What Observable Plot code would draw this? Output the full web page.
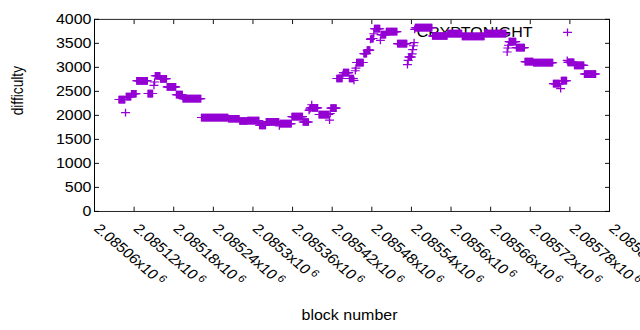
<!DOCTYPE html>
<html>
<head>
<meta charset="utf-8">
<script src="https://cdn.jsdelivr.net/npm/d3@7"></script>
<script src="https://cdn.jsdelivr.net/npm/@observablehq/plot@0.6"></script>
<style>
html, body { margin: 0; padding: 0; background: #fff; }
#chart { width: 640px; height: 330px; overflow: hidden; }
</style>
</head>
<body>
<div id="chart"></div>
<script>
// Runs of consecutive blocks that share one difficulty value
const runStart = [2085097,2085107,2085108,2085116,2085124,2085141,2085150,2085151,2085152,2085160,2085170,2085184,2085194,2085222,2085263,2085280,2085292,2085310,2085320,2085340,2085341,2085359,2085376,2085385,2085386,2085387,2085389,2085390,2085400,2085416,2085417,2085418,2085427,2085436,2085437,2085446,2085453,2085455,2085456,2085457,2085468,2085473,2085478,2085479,2085483,2085484,2085493,2085494,2085502,2085519,2085534,2085535,2085536,2085541,2085542,2085543,2085544,2085545,2085546,2085572,2085595,2085617,2085651,2085685,2085686,2085687,2085688,2085699,2085712,2085725,2085755,2085766,2085767,2085776,2085777,2085787,2085802];
const runEnd   = [2085106,2085107,2085115,2085123,2085140,2085148,2085150,2085151,2085159,2085169,2085183,2085193,2085221,2085262,2085279,2085291,2085309,2085319,2085339,2085340,2085358,2085375,2085384,2085385,2085386,2085388,2085389,2085398,2085415,2085416,2085417,2085426,2085435,2085436,2085445,2085452,2085453,2085455,2085456,2085467,2085472,2085477,2085478,2085482,2085483,2085492,2085493,2085501,2085518,2085533,2085534,2085535,2085540,2085541,2085542,2085543,2085544,2085545,2085571,2085594,2085616,2085650,2085683,2085685,2085686,2085687,2085698,2085711,2085724,2085754,2085764,2085766,2085775,2085776,2085786,2085801,2085819];
const runDifficulty = [2330,2056,2390,2450,2720,2455,2625,2695,2825,2762,2593,2430,2348,1955,1930,1883,1890,1793,1866,1779,1826,1975,1862,2105,2130,2157,2222,2157,2017,1900,2040,2150,2768,2840,2889,2768,2729,2930,2985,3100,3285,3360,3583,3600,3701,3805,3563,3681,3745,3493,3056,3146,3215,3280,3368,3450,3514,3792,3826,3653,3701,3646,3701,3319,3403,3460,3535,3410,3118,3097,2660,2556,2722,3146,3104,3042,2861];

const xTicks = [2085060,2085120,2085180,2085240,2085300,2085360,2085420,2085480,2085540,2085600,2085660,2085720,2085780,2085840];
const yTicks = [0,500,1000,1500,2000,2500,3000,3500,4000];
const seriesName = "CRYPTONIGHT";
const xLabel = "block number";
const yLabel = "difficulty";

// one point per block inside each run
const points = [];
runStart.forEach((s, i) => {
  for (let b = s; b <= runEnd[i]; b++) points.push({block: b, difficulty: runDifficulty[i]});
});

const color = "#9400d3";
const font = "'Liberation Sans', Arial, sans-serif";
const fmtTick = d => `${+(d / 1e6).toFixed(5)}x10`;

const svg = Plot.plot({
  width: 640,
  height: 384,
  marginLeft: 94,
  marginRight: 31,
  marginTop: 22,
  marginBottom: 138.5,
  style: {fontFamily: font, fontSize: "16px", color: "#000", background: "#fff"},
  x: {domain: [2085060, 2085840], axis: null},
  y: {domain: [0, 4000], axis: null},
  marks: [
    Plot.axisX(xTicks, {anchor: "bottom", tickSize: -5, fill: "none", label: null}),
    Plot.axisX(xTicks, {anchor: "top", tickSize: -5, fill: "none", label: null}),
    Plot.axisY(yTicks, {anchor: "left", tickSize: -5, fill: "none", label: null}),
    Plot.axisY(yTicks, {anchor: "right", tickSize: -5, fill: "none", label: null}),
    Plot.axisY(yTicks, {anchor: "left", tickSize: 0, tickPadding: 3, tickFormat: d => String(d), label: null, fontSize: 16}),
    Plot.text(xTicks, {x: d => d, frameAnchor: "bottom", text: fmtTick, rotate: 45, textAnchor: "start", lineAnchor: "bottom", dx: -1.5, dy: 21, fontSize: 16}),
    Plot.text([yLabel], {frameAnchor: "left", text: d => d, rotate: -90, dx: -77, fontSize: 16}),
    Plot.text([xLabel], {frameAnchor: "bottom", text: d => d, dx: -2.5, dy: 126.5, fontSize: 16}),
    Plot.text([seriesName], {frameAnchor: "top-right", text: d => d, textAnchor: "end", lineAnchor: "bottom", dx: -77, dy: 20, fontSize: 16}),
    Plot.dot([seriesName], {frameAnchor: "top-right", dx: -42, dy: 15.2, symbol: "plus", r: 3, stroke: color, strokeWidth: 1.3}),
    Plot.dot(points, {x: "block", y: "difficulty", symbol: "plus", r: 3, stroke: color, strokeWidth: 1.3}),
    Plot.frame({stroke: "#000", strokeWidth: 1})
  ]
});

// superscript exponent on the x tick labels
svg.querySelectorAll("text").forEach(t => {
  if (!/x10$/.test(t.textContent)) return;
  const sup = document.createElementNS("http://www.w3.org/2000/svg", "tspan");
  sup.setAttribute("dx", "3");
  sup.setAttribute("dy", "-5");
  sup.setAttribute("font-size", "12");
  sup.textContent = "6";
  t.appendChild(sup);
});

// the reference is drawn on a 640x384 canvas squeezed to 640x330
svg.setAttribute("viewBox", "0 0 640 384");
svg.setAttribute("preserveAspectRatio", "none");
svg.setAttribute("height", 330);
svg.style.width = "640px";
svg.style.height = "330px";
svg.style.maxWidth = "none";
svg.style.overflow = "hidden";
document.getElementById("chart").appendChild(svg);
</script>
</body>
</html>
